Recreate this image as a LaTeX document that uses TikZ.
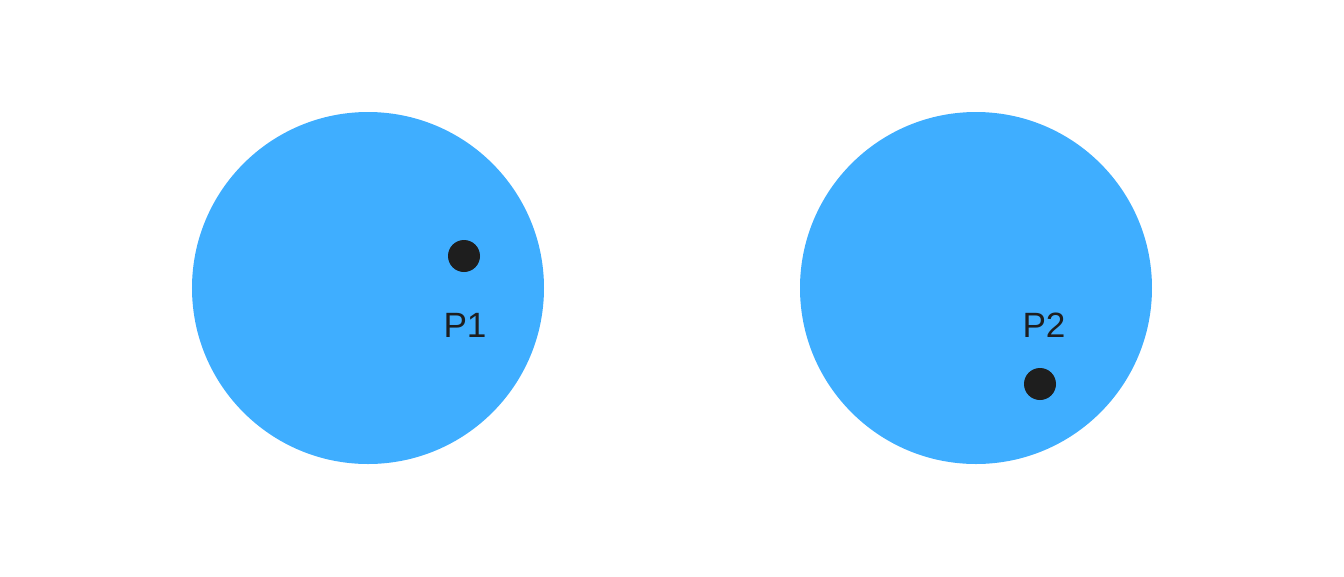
\documentclass[tikz,border=0pt]{standalone}
\usepackage{fontspec}
\setmainfont{Liberation Sans}
\usetikzlibrary{positioning}
\definecolor{discblue}{RGB}{63,174,255}
\definecolor{pointdark}{RGB}{30,30,30}

\begin{document}
\begin{tikzpicture}[
  x=1cm, y=1cm,
  disc/.style={circle, fill=discblue, inner sep=0pt, minimum size=35.2mm},
  pt/.style={circle, fill=pointdark, inner sep=0pt, minimum size=3.2mm},
  lbl/.style={font=\fontsize{10}{12}\selectfont, text=pointdark, inner sep=0pt}
]
\useasboundingbox (0,0) rectangle (13.44,5.76);

\node[disc] (discA) at (3.68,2.88) {};
\node[disc] (discB) at (9.76,2.88) {};

\node[pt] (pA) at (4.64,3.20) {};
\node[lbl] (labA) at (4.65,2.51) {P1};

\node[pt] (pB) at (10.40,1.92) {};
\node[lbl] (labB) at (10.44,2.51) {P2};
\end{tikzpicture}
\end{document}
